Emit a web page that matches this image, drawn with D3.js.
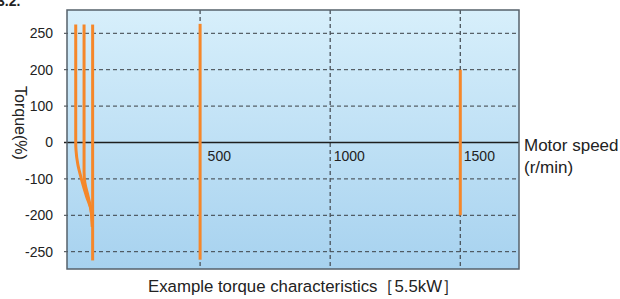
<!DOCTYPE html>
<html lang="en">
<meta charset="utf-8">
<style>
body { margin: 0; background: #fff; }
svg { display: block; font-family: "Liberation Sans", Arial, sans-serif; }
.ylab text { font-size: 14px; fill: #222; }
.xlab text { font-size: 14px; fill: #222; }
</style>
<body>
<svg width="620" height="299"></svg>
<script src="https://d3js.org/d3.v7.min.js"></script>
<script>

// tick values
var yTicks = [-250, -200, -100, 0, 100, 200, 250];
var xTicks = [500, 1000, 1500];

// torque curves: [speed r/min, torque %]
var curveA = [[22, 262], [22, 0], [23, -20], [30, -60], [45, -103], [64, -149], [81, -186], [86, -216]];
var curveB = [[54, 262], [54, 0], [54, -80], [57, -110], [70, -149], [81, -186], [86, -216]];
var curveC = [[87, 262], [87, -262]];
var curve500 = [[500, 263], [500, -261]];
var curve1500 = [[1500, 200], [1500, -200]];

var svg = d3.select("svg");

var plotL = 67, plotR = 519, plotT = 10, plotB = 269;

var x = d3.scaleLinear()
    .domain([0, 1500])
    .range([70, 460.3]);

// the torque axis is not linear: each labelled step gets the same height
var y = d3.scaleLinear()
    .domain(yTicks)
    .range(yTicks.map(function(d, i) { return 251.7 - i * 36.4; }));

var defs = svg.append("defs");
var grad = defs.append("linearGradient")
    .attr("id", "bg")
    .attr("x1", 0).attr("y1", 0).attr("x2", 0).attr("y2", 1);
grad.append("stop").attr("offset", "0%").attr("stop-color", "#d7effb");
grad.append("stop").attr("offset", "100%").attr("stop-color", "#a7d2ef");

// section number, clipped by the top edge as in the source
svg.append("text")
    .attr("x", -3)
    .attr("y", 6)
    .attr("font-size", 14)
    .attr("font-weight", "bold")
    .attr("fill", "#222")
    .text("3.2.");

svg.append("rect")
    .attr("x", plotL)
    .attr("y", plotT)
    .attr("width", plotR - plotL)
    .attr("height", plotB - plotT)
    .attr("fill", "url(#bg)");

// horizontal grid
svg.append("g")
  .selectAll("line")
  .data(yTicks.filter(function(d) { return d !== 0; }))
  .enter().append("line")
    .attr("x1", 64)
    .attr("x2", plotR)
    .attr("y1", function(d) { return y(d); })
    .attr("y2", function(d) { return y(d); })
    .attr("stroke", "#3a3f44")
    .attr("stroke-width", 1)
    .attr("stroke-dasharray", "4,3");

// vertical grid
svg.append("g")
  .selectAll("line")
  .data(xTicks)
  .enter().append("line")
    .attr("x1", function(d) { return x(d); })
    .attr("x2", function(d) { return x(d); })
    .attr("y1", plotT)
    .attr("y2", plotB)
    .attr("stroke", "#4a535b")
    .attr("stroke-width", 1.3)
    .attr("stroke-dasharray", "4,3");

// zero line
svg.append("line")
    .attr("x1", 64)
    .attr("x2", plotR)
    .attr("y1", y(0))
    .attr("y2", y(0))
    .attr("stroke", "#1e1e1e")
    .attr("stroke-width", 1.5);

// frame
svg.append("rect")
    .attr("x", plotL)
    .attr("y", plotT)
    .attr("width", plotR - plotL)
    .attr("height", plotB - plotT)
    .attr("fill", "none")
    .attr("stroke", "#56616b")
    .attr("stroke-width", 1.5);

var line = d3.line()
    .x(function(d) { return x(d[0]); })
    .y(function(d) { return y(d[1]); })
    .curve(d3.curveMonotoneY);

svg.append("g")
  .selectAll("path")
  .data([curveA, curveB, curveC, curve500, curve1500])
  .enter().append("path")
    .attr("d", line)
    .attr("fill", "none")
    .attr("stroke", "#f5872a")
    .attr("stroke-width", 3);

// y axis labels
svg.append("g")
    .attr("class", "ylab")
    .attr("transform", "translate(" + plotL + ",0)")
    .call(d3.axisLeft(y).tickValues(yTicks).tickSize(0).tickPadding(14)
      .tickFormat(function(d) { return String(d); }))
    .call(function(g) { g.select(".domain").remove(); })
    .selectAll("text")
    .attr("fill", "#222");

// x axis labels, to the right of their grid lines
svg.append("g")
    .attr("class", "xlab")
    .attr("transform", "translate(0," + y(0) + ")")
    .call(d3.axisBottom(x).tickValues(xTicks).tickSize(0).tickPadding(0)
      .tickFormat(function(d) { return String(d); }))
    .call(function(g) { g.select(".domain").remove(); })
    .selectAll("text")
    .attr("fill", "#222")
    .attr("text-anchor", "start")
    .attr("dy", 0)
    .attr("y", 18)
    .attr("dx", function(d) { return d === 500 ? 7 : 3; });

svg.append("text")
    .attr("transform", "translate(15,123) rotate(90)")
    .attr("text-anchor", "middle")
    .attr("font-size", 16)
    .attr("fill", "#222")
    .text("Torque(%)");

svg.append("text")
    .attr("x", 524)
    .attr("y", 151)
    .attr("font-size", 17)
    .attr("fill", "#222")
    .text("Motor speed");

svg.append("text")
    .attr("x", 524)
    .attr("y", 173)
    .attr("font-size", 17)
    .attr("fill", "#222")
    .text("(r/min)");

svg.append("text")
    .attr("x", 148)
    .attr("y", 292)
    .attr("font-size", 16.8)
    .attr("fill", "#222")
    .text("Example torque characteristics［5.5kW］");

</script>
</body>
</html>
